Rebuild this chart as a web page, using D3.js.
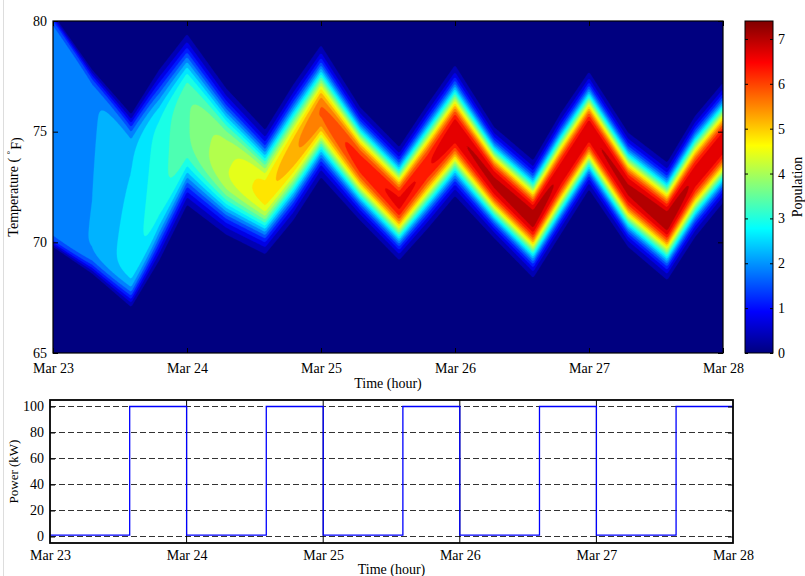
<!DOCTYPE html>
<html>
<head>
<meta charset="utf-8">
<script src="https://cdn.jsdelivr.net/npm/d3@7"></script>
<style>
  body { margin: 0; background: #fff; }
  text { font-family: "Liberation Serif", "Times New Roman", serif; fill: #000; }
</style>
</head>
<body>
<svg id="chart" width="805" height="576"></svg>
<script>
// ---- axis labels and ticks ----
const dayLabels  = ["Mar 23", "Mar 24", "Mar 25", "Mar 26", "Mar 27", "Mar 28"];
const dayHours   = [0, 24, 48, 72, 96, 120];
const tempTicks  = [65, 70, 75, 80];
const popTicks   = [0, 1, 2, 3, 4, 5, 6, 7];
const powerTicks = [0, 20, 40, 60, 80, 100];

// ---- population density band (hours after Mar 23 00:00) ----
// upper / lower edge of the occupied temperature band (°F), peak density,
// profile flatness exponent and lean towards cooler temperatures
const keyHours   = [0, 7, 14, 19, 24, 31, 38, 43, 48, 55, 62, 67, 72, 79, 86, 91, 96, 103, 110, 115, 120];
const bandTop    = [80.3, 77.8, 75.8, 77.8, 79.4, 77.0, 75.1, 77.1, 78.9, 76.1, 74.3, 76.2, 78.0, 75.2, 73.7, 75.85, 77.7, 74.95, 73.6, 75.7, 77.2];
const bandBottom = [69.8, 68.6, 67.1, 69.2, 71.7, 70.4, 69.5, 71.0, 72.95, 71.0, 69.2, 70.6, 72.1, 70.2, 68.4, 70.4, 72.4, 69.8, 68.3, 70.25, 71.8];
const peakPop    = [2.0, 2.2, 2.68, 3.15, 3.65, 4.35, 5.0, 5.45, 5.95, 6.5, 6.75, 6.6, 7.0, 7.1, 7.25, 6.95, 7.0, 7.1, 7.3, 6.95, 7.0];
const bandShape  = [30, 16, 9, 5, 3.9, 3.3, 2.6, 2.5, 2.4, 2.4, 2.4, 2.4, 2.4, 2.4, 2.4, 2.4, 2.4, 2.4, 2.4, 2.4, 2.4];
const bandTilt   = [0, 0.03, 0.08, 0.04, 0, 0.08, 0.05, 0, 0, 0, 0, 0, 0, 0, 0, 0, 0, 0, 0, 0, 0];

// ---- aggregate power (step changes) ----
const powerHours = [0, 14, 24, 38, 48, 62, 72, 86, 96, 110, 120];
const powerKW    = [1, 100, 1, 100, 1, 100, 1, 100, 1, 100, 100];

const svg = d3.select("#chart");
const cmax = 7.4;
const nLevels = 20;
const levels = d3.range(nLevels).map(i => i * cmax / nLevels);
const serif = "'Liberation Serif', 'Times New Roman', serif";

// MATLAB-style jet colormap
function jet(v) {
  const u = Math.max(0, Math.min(1, v / cmax));
  const c = k => Math.round(255 * Math.max(0, Math.min(1, 1.5 - Math.abs(4 * u - k))));
  return `rgb(${c(3)},${c(2)},${c(1)})`;
}

// ================= upper panel: temperature distribution =================
const P = { l: 53, r: 723, t: 21, b: 353 };
const x = d3.scaleLinear([0, 120], [P.l, P.r]);
const y = d3.scaleLinear([65, 80], [P.b, P.t]);

function bandAt(t) {
  let i = d3.bisectRight(keyHours, t) - 1;
  i = Math.max(0, Math.min(keyHours.length - 2, i));
  const f = (t - keyHours[i]) / (keyHours[i + 1] - keyHours[i]);
  const lerp = a => a[i] + (a[i + 1] - a[i]) * f;
  return { top: lerp(bandTop), bot: lerp(bandBottom), A: lerp(peakPop), p: lerp(bandShape), k: lerp(bandTilt) };
}
function density(b, T) {
  const c = (b.top + b.bot) / 2, h = (b.top - b.bot) / 2;
  const w = h / Math.pow(Math.log(b.A / levels[1]), 1 / b.p);
  const z = Math.abs(T - c) / w;
  return b.A * Math.exp(-Math.pow(z, b.p)) * Math.max(0, 1 + b.k * (c - T) / w);
}

const nx = 420, ny = 250;
const gx = d3.scaleLinear([0, nx], [0, 120]);
const gy = d3.scaleLinear([0, ny], [80, 65]);
const values = new Float64Array(nx * ny);
for (let i = 0; i < nx; i++) {
  const b = bandAt(gx(i + 0.5));
  for (let j = 0; j < ny; j++) values[j * nx + i] = density(b, gy(j + 0.5));
}
const contours = d3.contours().size([nx, ny]).thresholds(levels)(values);
const proj = d3.geoTransform({ point(px, py) { this.stream.point(x(gx(px)), y(gy(py))); } });
const path = d3.geoPath(proj);

svg.append("clipPath").attr("id", "clipTop")
  .append("rect").attr("x", P.l).attr("y", P.t).attr("width", P.r - P.l).attr("height", P.b - P.t);

svg.append("g").attr("clip-path", "url(#clipTop)")
  .selectAll("path").data(contours).join("path")
  .attr("d", path)
  .attr("fill", d => jet(d.value))
  .attr("stroke", d => jet(d.value))
  .attr("stroke-width", 0.3);

// axes with inward ticks
const fmtDay = h => dayLabels[dayHours.indexOf(h)];
svg.append("g").attr("transform", `translate(0,${P.b})`)
  .call(d3.axisBottom(x).tickValues(dayHours).tickFormat(fmtDay).tickSize(-5).tickPadding(10))
  .call(g => g.select(".domain").remove());
svg.append("g").attr("transform", `translate(0,${P.t})`)
  .call(d3.axisTop(x).tickValues(dayHours).tickFormat("").tickSize(-5))
  .call(g => g.select(".domain").remove());
svg.append("g").attr("class", "yax").attr("transform", `translate(${P.l},0)`)
  .call(d3.axisLeft(y).tickValues(tempTicks).tickSize(-5).tickPadding(6))
  .call(g => g.select(".domain").remove());
svg.append("g").attr("transform", `translate(${P.r},0)`)
  .call(d3.axisRight(y).tickValues(tempTicks).tickFormat("").tickSize(-5))
  .call(g => g.select(".domain").remove());
svg.append("rect").attr("x", P.l).attr("y", P.t).attr("width", P.r - P.l).attr("height", P.b - P.t)
  .attr("fill", "none").attr("stroke", "#000").attr("stroke-width", 1.2);

svg.append("text").attr("x", (P.l + P.r) / 2).attr("y", 388).attr("text-anchor", "middle")
  .attr("font-size", 14).text("Time (hour)");
const tl = svg.append("text").attr("transform", `translate(13,${(P.t + P.b) / 2}) rotate(-90)`)
  .attr("text-anchor", "middle").attr("dy", "0.35em").attr("font-size", 14);
tl.append("tspan").text("Temperature ( ");
tl.append("tspan").attr("font-size", 9).attr("dy", "-0.6em").text("°");
tl.append("tspan").attr("dy", "0.6em").attr("dx", 1).text("F)");

// colour bar
const CB = { l: 745, r: 773, t: 21, b: 353 };
const cy = d3.scaleLinear([0, cmax], [CB.b, CB.t]);
const grad = svg.append("defs").append("linearGradient").attr("id", "jetGrad")
  .attr("x1", 0).attr("y1", 1).attr("x2", 0).attr("y2", 0);
d3.range(65).forEach(i => grad.append("stop").attr("offset", i / 64).attr("stop-color", jet(i / 64 * cmax)));
svg.append("rect").attr("x", CB.l).attr("y", CB.t).attr("width", CB.r - CB.l).attr("height", CB.b - CB.t)
  .attr("fill", "url(#jetGrad)").attr("stroke", "#000").attr("stroke-width", 1);
svg.append("g").attr("transform", `translate(${CB.r},0)`)
  .call(d3.axisRight(cy).tickValues(popTicks).tickSize(-3).tickPadding(5))
  .call(g => g.select(".domain").remove());
svg.append("g").attr("transform", `translate(${CB.l},0)`)
  .call(d3.axisLeft(cy).tickValues(popTicks).tickFormat("").tickSize(-3))
  .call(g => g.select(".domain").remove());
svg.append("text").attr("transform", `translate(797,${(CB.t + CB.b) / 2}) rotate(-90)`)
  .attr("text-anchor", "middle").attr("dy", "0.35em").attr("font-size", 14).text("Population");

// ================= lower panel: power =================
const Q = { l: 50, r: 733, t: 400, b: 543 };
const bx = d3.scaleLinear([0, 120], [Q.l, Q.r]);
const by = d3.scaleLinear([-5, 105], [Q.b, Q.t]);

svg.append("g").selectAll("line").data(powerTicks).join("line")
  .attr("x1", Q.l).attr("x2", Q.r).attr("y1", d => by(d)).attr("y2", d => by(d))
  .attr("stroke", "#333").attr("stroke-width", 1).attr("stroke-dasharray", "6,3");
svg.append("g").selectAll("line").data(dayHours.slice(1, -1)).join("line")
  .attr("x1", d => bx(d)).attr("x2", d => bx(d)).attr("y1", Q.t).attr("y2", Q.b)
  .attr("stroke", "#000").attr("stroke-width", 1);

const powerLine = d3.line().x((d, i) => bx(powerHours[i])).y(d => by(d)).curve(d3.curveStepAfter);
svg.append("path").attr("d", powerLine(powerKW))
  .attr("fill", "none").attr("stroke", "#0000ff").attr("stroke-width", 1.3);

svg.append("g").attr("transform", `translate(0,${Q.b})`)
  .call(d3.axisBottom(bx).tickValues(dayHours).tickFormat(fmtDay).tickSize(0).tickPadding(7))
  .call(g => g.select(".domain").remove());
svg.append("g").attr("class", "yax").attr("transform", `translate(${Q.l},0)`)
  .call(d3.axisLeft(by).tickValues(powerTicks).tickSize(-5).tickPadding(6))
  .call(g => g.select(".domain").remove());
svg.append("g").attr("transform", `translate(${Q.r},0)`)
  .call(d3.axisRight(by).tickValues(powerTicks).tickFormat("").tickSize(-5))
  .call(g => g.select(".domain").remove());
svg.append("rect").attr("x", Q.l).attr("y", Q.t).attr("width", Q.r - Q.l).attr("height", Q.b - Q.t)
  .attr("fill", "none").attr("stroke", "#000").attr("stroke-width", 1.8);

svg.append("text").attr("x", (Q.l + Q.r) / 2).attr("y", 574).attr("text-anchor", "middle")
  .attr("font-size", 14).text("Time (hour)");
svg.append("text").attr("transform", `translate(13,${(Q.t + Q.b) / 2}) rotate(-90)`)
  .attr("text-anchor", "middle").attr("dy", "0.35em").attr("font-size", 13).text("Power (kW)");

// tick label font
svg.selectAll(".tick text").attr("font-size", 14).attr("font-family", serif).attr("fill", "#000");
svg.selectAll(".yax .tick text").attr("dy", "0.3em");
svg.selectAll(".tick line").attr("stroke", "#000");

// faint panel edge on the left
svg.append("line").attr("x1", 3.5).attr("x2", 3.5).attr("y1", 0).attr("y2", 576)
  .attr("stroke", "#ddd").attr("stroke-width", 1);
</script>
</body>
</html>
